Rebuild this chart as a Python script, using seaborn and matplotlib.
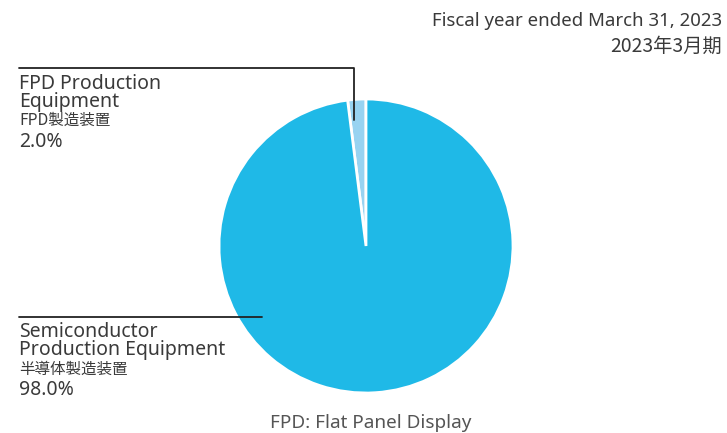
import numpy as np
import pandas as pd
import matplotlib
matplotlib.use("Agg")
import matplotlib.pyplot as plt
import seaborn as sns

## data
segments = ["FPD Production Equipment", "Semiconductor Production Equipment"]
segments_ja = ["FPD製造装置", "半導体製造装置"]
shares = [2.0, 98.0]
colors = ["#98D3F1", "#1FB9E7"]

title_en = "Fiscal year ended March 31, 2023"
title_ja = "2023年3月期"
note = "FPD: Flat Panel Display"

sns.set_theme(style="white")
plt.rcParams['font.family'] = ['Noto Sans', 'Noto Sans CJK JP', 'DejaVu Sans']
ja_font = ['Noto Sans CJK JP', 'DejaVu Sans']

W, H = 727, 433
fig = plt.figure(figsize=(W / 100, H / 100), dpi=100)
ax = fig.add_axes([0, 0, 1, 1])

def py(y):
    # pixel row -> data y
    return H - y

df = pd.DataFrame({"segment": segments, "share": shares})

ax.pie(df["share"], colors=colors, startangle=90, counterclock=True,
       center=(366, py(246)), radius=147, frame=True,
       wedgeprops=dict(edgecolor="white", linewidth=2))
ax.set_xlim(0, W)
ax.set_ylim(0, H)
ax.set_aspect('equal')
ax.axis('off')

txt = "#3a3a3a"

## leader lines
ax.plot([19, 354, 354], [py(68), py(68), py(120)], color="#222222", lw=1.3)
ax.plot([19, 262], [py(317), py(317)], color="#222222", lw=1.3)

## FPD label
ax.text(19, py(89), "FPD Production", fontsize=14, color=txt, va='baseline')
ax.text(19, py(107), "Equipment", fontsize=14, color=txt, va='baseline')
ax.text(19, py(125), segments_ja[0], fontsize=11.2, family=ja_font, color=txt, va='baseline')
ax.text(19, py(147), f"{shares[0]:.1f}%", fontsize=14, color=txt, va='baseline')

## Semiconductor label
ax.text(19, py(337), "Semiconductor", fontsize=14, color=txt, va='baseline')
ax.text(19, py(355), "Production Equipment", fontsize=14, color=txt, va='baseline')
ax.text(19, py(374), segments_ja[1], fontsize=11.2, family=ja_font, color=txt, va='baseline')
ax.text(19, py(395), f"{shares[1]:.1f}%", fontsize=14, color=txt, va='baseline')

## title
ax.text(722, py(26), title_en, fontsize=13.4, color=txt, ha='right', va='baseline')
ax.text(722, py(52), title_ja, fontsize=13.9, family=ja_font, color=txt, ha='right', va='baseline')

## footnote
ax.text(371, py(428), note, fontsize=13.6, color="#555555", ha='center', va='baseline')

fig.savefig("out.png", dpi=100)
